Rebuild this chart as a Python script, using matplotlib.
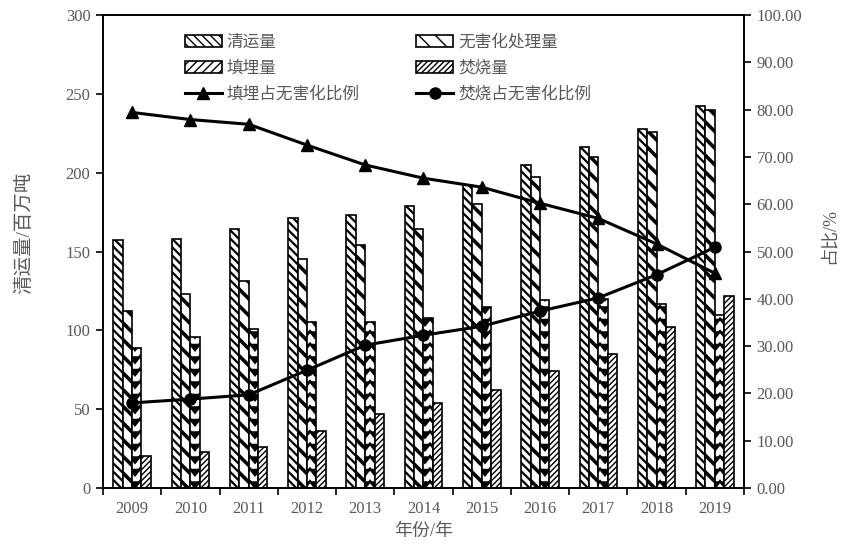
import numpy as np
import matplotlib
matplotlib.use('Agg')
import matplotlib.pyplot as plt
from matplotlib import hatch as mhatch
from matplotlib.path import Path
from matplotlib.patches import Patch

# 数据（百万吨 / %）
years = ['2009', '2010', '2011', '2012', '2013', '2014', '2015', '2016', '2017', '2018', '2019']
clearance = [157, 158, 164, 171, 173, 179, 192, 205, 216, 228, 242]
harmless = [112, 123, 131, 145, 154, 164, 180, 197, 210, 226, 240]
landfill = [89, 96, 101, 105, 105, 108, 115, 119, 120, 117, 110]
incineration = [20, 23, 26, 36, 47, 54, 62, 74, 85, 102, 122]
landfill_ratio = [79.4, 77.9, 76.9, 72.5, 68.3, 65.5, 63.6, 60.2, 57.0, 51.6, 45.4]
incineration_ratio = [18.0, 18.8, 19.7, 24.9, 30.2, 32.3, 34.2, 37.4, 40.2, 45.1, 50.9]

GRAY = '#595959'


class ChevronHatch(mhatch.HatchPatternBase):
    """用 '*' 画人字形（V形）填充"""

    def __init__(self, hatch, density):
        n = hatch.count('*')
        self.cols = 10
        self.rows = 8 * n if n else 0
        if self.rows:
            self.num_vertices = (self.rows + 2) * (1 + 2 * self.cols)
        else:
            self.num_vertices = 0

    def set_vertices_and_codes(self, vertices, codes):
        w = 1.0 / self.cols
        h = 1.0 / self.rows
        depth = 0.5 * h
        k = 0
        for r in range(-1, self.rows + 1):
            y = r * h
            vertices[k] = (0.0, y + depth)
            codes[k] = Path.MOVETO
            k += 1
            for c in range(self.cols):
                x = c * w
                vertices[k] = (x + w / 2, y)
                codes[k] = Path.LINETO
                k += 1
                vertices[k] = (x + w, y + depth)
                codes[k] = Path.LINETO
                k += 1


mhatch._hatch_types = [t for t in mhatch._hatch_types if t is not mhatch.Stars] + [ChevronHatch]

plt.rcParams['font.family'] = ['Liberation Serif', 'Noto Sans CJK SC']
plt.rcParams['axes.unicode_minus'] = False
plt.rcParams['hatch.color'] = 'black'

fig = plt.figure(figsize=(8.42, 5.54), dpi=100)
ax = fig.add_axes([0.1223, 0.1191, 0.7613, 0.8538])
ax2 = ax.twinx()

x = np.arange(len(years))
w = 0.161
bar_styles = [
    (clearance, '\\\\\\\\', 1.6, '清运量'),
    (harmless, '\\\\', 2.6, '无害化处理量'),
    (landfill, '*', 1.8, '填埋量'),
    (incineration, '//////', 1.0, '焚烧量'),
]
handles = []
for i, (vals, hat, hlw, lab) in enumerate(bar_styles):
    with plt.rc_context({'hatch.linewidth': hlw}):
        bars = ax.bar(x + (i - 1.5) * w, vals, w, color='white', edgecolor='black',
                      linewidth=1.2, hatch=hat, zorder=2)
    for b in bars:
        if hasattr(b, 'set_hatch_linewidth'):
            b.set_hatch_linewidth(hlw)
    leg_hat = '////' if hat == '*' else hat
    leg_lw = 2.4 if hat == '*' else hlw
    with plt.rc_context({'hatch.linewidth': leg_lw}):
        h = Patch(facecolor='white', edgecolor='black', linewidth=1.2, hatch=leg_hat, label=lab)
    if hasattr(h, 'set_hatch_linewidth'):
        h.set_hatch_linewidth(leg_lw)
    handles.append(h)

l1, = ax2.plot(x, landfill_ratio, color='black', lw=2.2, marker='^', ms=8,
               label='填埋占无害化比例', zorder=3)
l2, = ax2.plot(x, incineration_ratio, color='black', lw=2.2, marker='o', ms=8,
               label='焚烧占无害化比例', zorder=3)

ax.set_xlim(-0.5, len(years) - 0.5)
ax.set_ylim(0, 300)
ax.set_yticks(range(0, 301, 50))
ax2.set_ylim(0, 100)
ax2.set_yticks(range(0, 101, 10))
ax2.set_yticklabels([f'{v:.2f}' for v in range(0, 101, 10)])

ax.set_xticks(np.arange(len(years) + 1) - 0.5)
ax.set_xticklabels([''] * (len(years) + 1))
ax.set_xticks(x, minor=True)
ax.set_xticklabels(years, minor=True)
ax.tick_params(axis='x', which='minor', length=0, pad=9, labelsize=12, labelcolor=GRAY)
ax.tick_params(axis='x', which='major', length=5, width=1.2, direction='out')
ax.tick_params(axis='y', length=5, width=1.2, labelsize=12, labelcolor=GRAY, pad=4)
ax2.tick_params(axis='y', length=5, width=1.2, labelsize=12, labelcolor=GRAY, pad=4)

for sp in ax.spines.values():
    sp.set_linewidth(1.2)
for sp in ax2.spines.values():
    sp.set_linewidth(1.2)

ax.set_xlabel('年份/年', fontsize=13, color=GRAY, labelpad=5)
ax.set_ylabel('清运量/百万吨', fontsize=14, color=GRAY, rotation=90, va='center', ha='center')
ax.yaxis.set_label_coords(-0.123, 0.54)
ax2.set_ylabel('占比/%', fontsize=13, color=GRAY, rotation=90, va='center', ha='center')
ax2.yaxis.set_label_coords(1.133, 0.533)

leg_handles = [handles[0], handles[2], l1, handles[1], handles[3], l2]
leg = ax2.legend(handles=leg_handles, ncol=2, loc='upper left', bbox_to_anchor=(0.128, 0.958),
                 frameon=False, fontsize=12, borderpad=0, borderaxespad=0,
                 handlelength=2.2, handleheight=0.75, handletextpad=0.3,
                 columnspacing=3.4, labelspacing=0.6)
for t in leg.get_texts():
    t.set_color(GRAY)

fig.savefig('out.png', dpi=100)
